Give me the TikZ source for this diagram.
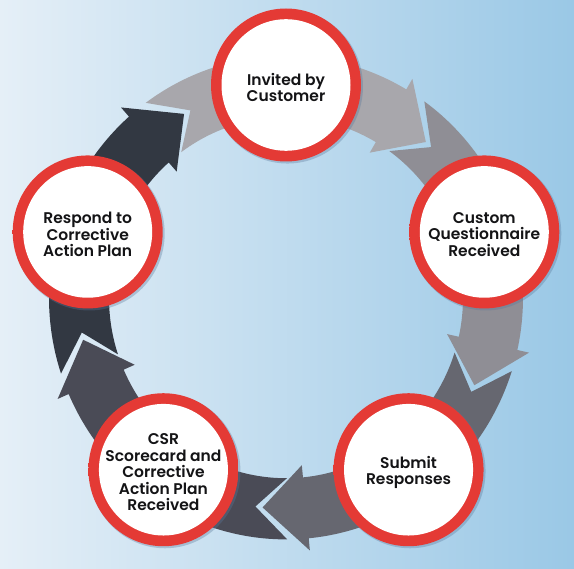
\documentclass[tikz,border=0pt]{standalone}
\usepackage{fontspec}
\setmainfont{Poppins}[BoldFont={* SemiBold}]
\usetikzlibrary{calc}
\definecolor{bgL}{RGB}{229,239,247}
\definecolor{bgR}{RGB}{154,200,230}
\definecolor{segA}{RGB}{168,167,172}
\definecolor{segB}{RGB}{143,142,149}
\definecolor{segC}{RGB}{102,103,112}
\definecolor{segD}{RGB}{74,75,86}
\definecolor{segE}{RGB}{50,56,66}
\definecolor{ringB}{RGB}{235,63,57}
\definecolor{ringM}{RGB}{228,58,53}
\definecolor{ringD}{RGB}{206,47,44}
\definecolor{shadowcol}{RGB}{90,120,155}
\definecolor{txt}{RGB}{20,20,22}
\pgfdeclareradialshading{ringshade}{\pgfpoint{0bp}{0bp}}{color(0bp)=(ringM); color(42.5bp)=(ringM); color(45bp)=(ringB); color(47.5bp)=(ringM); color(50bp)=(ringD)}
\tikzset{
  lbl/.style={align=center, text=txt, inner sep=0pt, yshift=-2.5pt,
    font=\bfseries\fontsize{15.5}{16.5}\selectfont},
}
\begin{document}
\begin{tikzpicture}[x=1pt,y=1.02pt]
\shade[left color=bgL, right color=bgR] (0,0) rectangle (574,557.84);
\useasboundingbox (0,0) rectangle (574,557.84);
\coordinate (C) at (286,266);
% arrow segments of the ring
\begin{scope}[shift={(C)}]
\foreach \c/\col in {90/segA, 18/segB, -54/segC, -126/segD, 162/segE}{
  \fill[\col] ({\c+36.3}:237) arc[start angle=\c+36.3, end angle=\c-30.5, radius=237]
    -- ({\c-30.5}:249) -- ({\c-42.5}:207) -- ({\c-30.5}:165)
    -- ({\c-30.5}:177) arc[start angle=\c-30.5, end angle=\c+36.3, radius=177]
    -- ({\c+27.5}:207) -- cycle;
}
\end{scope}
% circle centres
\coordinate (n1) at ($(C)+(90:208.5)$);
\coordinate (n2) at ($(C)+(18:208.5)$);
\coordinate (n3) at ($(C)+(-54:208.5)$);
\coordinate (n4) at ($(C)+(-126:208.5)$);
\coordinate (n5) at ($(C)+(162:208.5)$);
\foreach \n in {n1,n2,n3,n4,n5}{
  \fill[shadowcol, opacity=0.35] ($(\n)+(1.5,-1.5)$) circle (75.5);
  \shade[shading=ringshade] (\n) circle (75);
  \fill[white] (\n) circle (64.5);
}
\node[lbl] (t1) at (n1) {Invited by\\Customer};
\node[lbl] (t2) at (n2) {Custom\\Questionnaire\\Received};
\node[lbl] (t3) at (n3) {Submit\\Responses};
\node[lbl] (t4) at (n4) {CSR\\Scorecard and\\Corrective\\Action Plan\\Received};
\node[lbl] (t5) at (n5) {Respond to\\Corrective\\Action Plan};
\end{tikzpicture}
\end{document}
